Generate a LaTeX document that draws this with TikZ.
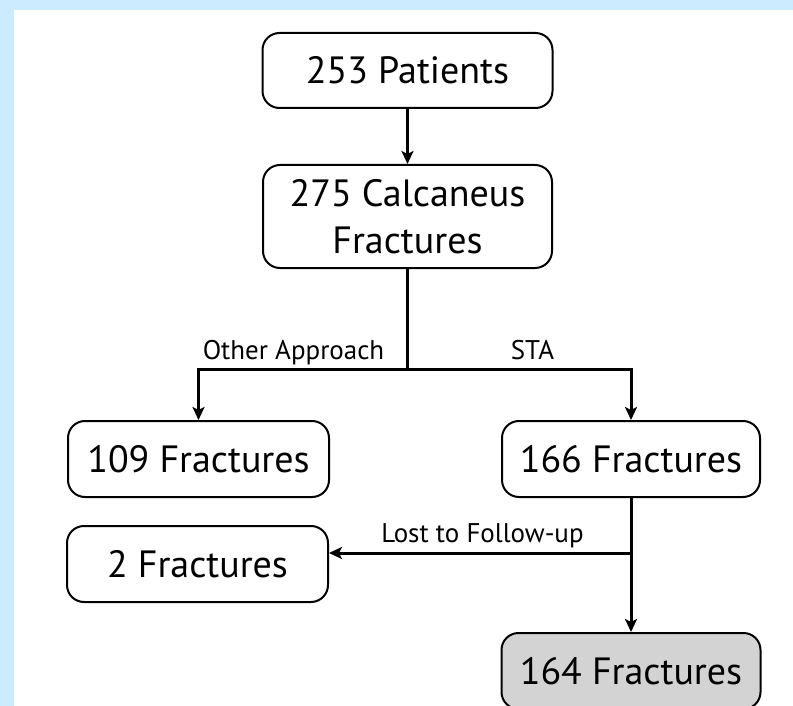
\documentclass[tikz,border=0pt]{standalone}
\usepackage{fontspec}
\setmainfont{PT Sans}
\usetikzlibrary{arrows.meta}
\definecolor{bgblue}{RGB}{204,235,255}
\definecolor{boxgray}{RGB}{211,211,211}
\begin{document}
\begin{tikzpicture}[x=1pt,y=-1pt,
  box/.style={draw, line width=2pt, rounded corners=17pt, minimum height=76pt, align=center,
    font=\fontsize{38}{47}\selectfont, inner sep=0pt},
  conn/.style={line width=3pt},
  arr/.style={conn, -{Stealth[length=13pt,width=12pt,inset=3pt]}},
  lbl/.style={font=\fontsize{27}{31}\selectfont, inner sep=0pt, anchor=base}]
\useasboundingbox (0,0) rectangle (793,706);
\clip (0,0) rectangle (793,706);
\fill[bgblue] (0,0) rectangle (793,706);
\fill[white] (14,10) rectangle (793,706);

\node[box, minimum width=290pt, minimum height=75pt] (p253) at (407.5,70.5) {253 Patients};
\node[box, minimum width=289pt, minimum height=103pt] (c275) at (407.5,216.5) {275 Calcaneus\\Fractures};
\node[box, minimum width=261pt] (f109) at (198.5,459) {109 Fractures};
\node[box, minimum width=258pt] (f166) at (631,459) {166 Fractures};
\node[box, minimum width=261pt] (f2) at (197.5,564) {2 Fractures};
\node[box, minimum width=259pt, fill=boxgray] (f164) at (631,671) {164 Fractures};

\coordinate (br) at (407.5,369);
\coordinate (lj) at (631,553);

\draw[arr] (p253) -- (c275);
\draw[conn] (c275.south) -- (br);
\draw[arr] (br) -| (f109.north);
\draw[arr] (br) -| (f166.north);
\draw[arr] (f166.south) -- (f164.north);
\draw[arr] (lj) -- (lj -| f2.east);

\node[lbl] (lo) at (293.5,359) {Other Approach};
\node[lbl] (ls) at (532.5,359) {STA};
\node[lbl] (ll) at (482.5,542) {Lost to Follow-up};
\end{tikzpicture}
\end{document}
